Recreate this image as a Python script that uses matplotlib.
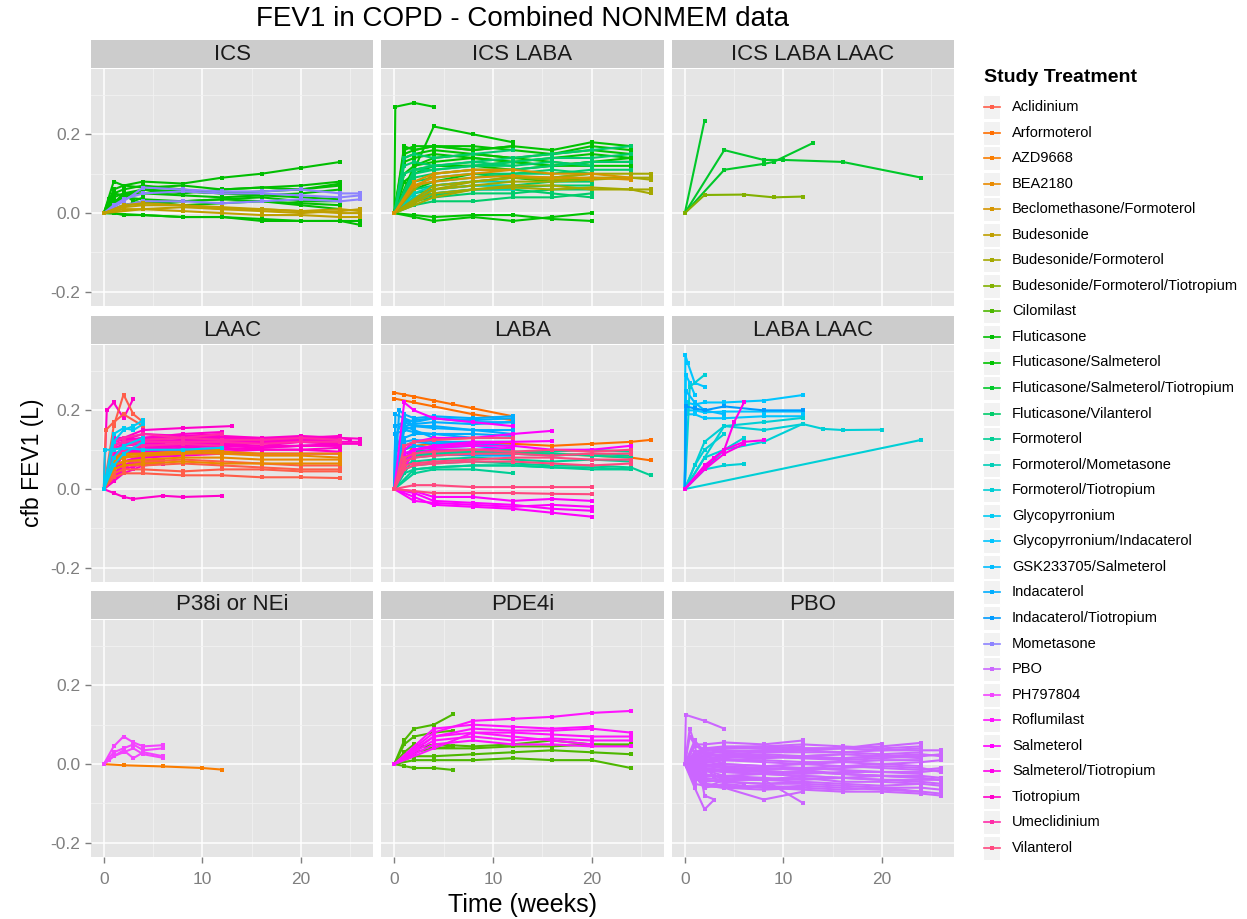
import numpy as np
import matplotlib
matplotlib.use("Agg")
import matplotlib.pyplot as plt

plt.rcParams['font.family'] = ['Liberation Sans', 'DejaVu Sans']

treatments = ["Aclidinium", "Arformoterol", "AZD9668", "BEA2180",
              "Beclomethasone/Formoterol", "Budesonide", "Budesonide/Formoterol",
              "Budesonide/Formoterol/Tiotropium", "Cilomilast", "Fluticasone",
              "Fluticasone/Salmeterol", "Fluticasone/Salmeterol/Tiotropium",
              "Fluticasone/Vilanterol", "Formoterol", "Formoterol/Mometasone",
              "Formoterol/Tiotropium", "Glycopyrronium", "Glycopyrronium/Indacaterol",
              "GSK233705/Salmeterol", "Indacaterol", "Indacaterol/Tiotropium",
              "Mometasone", "PBO", "PH797804", "Roflumilast", "Salmeterol",
              "Salmeterol/Tiotropium", "Tiotropium", "Umeclidinium", "Vilanterol"]

panel_names = ["ICS", "ICS LABA", "ICS LABA LAAC",
               "LAAC", "LABA", "LABA LAAC",
               "P38i or NEi", "PDE4i", "PBO"]

# each line: (treatment, time in weeks, cfb FEV1 in L)
ics = [
    ("Fluticasone", [0, 1, 2, 4, 8, 12, 16, 20, 24], [0, .06, .07, .08, .075, .09, .10, .115, .13]),
    ("Fluticasone", [0, 1, 2, 4, 8, 12, 16, 20, 24], [0, .08, .07, .065, .07, .06, .065, .07, .08]),
    ("Fluticasone", [0, 1, 2, 4, 8, 12, 16, 20, 24], [0, .05, .06, .07, .06, .05, .055, .06, .07]),
    ("Fluticasone", [0, 1, 2, 4, 8, 12, 16, 20, 24], [0, .04, .05, .05, .045, .04, .045, .05, .06]),
    ("Fluticasone", [0, 1, 2, 4, 8, 12, 16, 20, 24], [0, .03, .04, .035, .03, .035, .04, .03, .03]),
    ("Fluticasone", [0, 2, 4, 8, 12, 16, 20, 24], [0, .02, .03, .02, .025, .03, .02, .01]),
    ("Fluticasone", [0, 1, 2, 4, 8, 12, 16, 20, 24, 26], [0, 0, -.005, -.005, -.01, -.01, -.015, -.02, -.02, -.03]),
    ("Fluticasone", [0, 4, 8, 12, 16, 20, 24, 26], [0, -.005, -.01, -.01, -.02, -.02, -.02, -.02]),
    ("Fluticasone", [0, 1, 2, 4, 6, 8, 12], [0, .05, .045, .06, .05, .055, .05]),
    ("Fluticasone", [0, .5, 1, 2, 3, 4], [0, .035, .02, .05, .03, .04]),
    ("Fluticasone", [0, 2, 4, 8, 12, 16, 20, 24], [0, .04, .06, .055, .05, .045, .04, .035]),
    ("Fluticasone", [0, 1, 2, 4, 8, 12, 16, 20, 24], [0, .01, .02, .025, .03, .035, .03, .025, .02]),
    ("Fluticasone", [0, 2, 4, 8, 12, 16, 20, 24], [0, .05, .06, .05, .06, .065, .06, .075]),
    ("Mometasone", [0, 1, 2, 4, 8, 12, 16, 20, 24, 26], [0, .02, .035, .05, .055, .05, .05, .045, .04, .045]),
    ("Mometasone", [0, 2, 4, 8, 12, 16, 20, 24, 26], [0, .03, .065, .06, .055, .055, .06, .05, .05]),
    ("Mometasone", [0, 2, 4, 8, 12, 16, 20, 24, 26], [0, .02, .03, .03, .025, .03, .035, .03, .035]),
    ("Budesonide", [0, 2, 4, 8, 12, 16, 20, 24, 26], [0, .015, .02, .02, .01, .005, 0, .005, .01]),
    ("Budesonide", [0, 2, 4, 8, 12, 16, 20, 24, 26], [0, .02, .025, .02, .015, .01, .005, 0, 0]),
    ("Budesonide", [0, 2, 4, 8, 12, 16, 20, 24, 26], [0, .01, .01, .005, 0, -.005, -.005, -.01, -.01]),
    ("Budesonide", [0, 4, 8, 12, 16, 20, 24, 26], [0, .01, .015, .01, .01, .005, .01, .005]),
]

ics_laba = [
    ("Fluticasone/Salmeterol", [0, .1, 2, 4], [0, .27, .28, .27]),
    ("Fluticasone/Salmeterol", [0, 4, 8, 12], [0, .22, .2, .18]),
    ("Fluticasone/Salmeterol", [0, 1, 2, 4, 8, 12, 16, 20, 24], [0, .16, .17, .17, .16, .17, .16, .18, .17]),
    ("Fluticasone/Salmeterol", [0, 1, 2, 4, 8, 12, 16, 20, 24], [0, .14, .15, .16, .15, .14, .15, .17, .16]),
    ("Fluticasone/Salmeterol", [0, 2, 4, 8, 12, 16, 20, 24], [0, .12, .13, .14, .13, .12, .13, .14]),
    ("Fluticasone/Salmeterol", [0, 1, 2, 4, 8, 12, 16, 20], [0, .10, .12, .14, .15, .14, .13, .12]),
    ("Fluticasone/Salmeterol", [0, 2, 4, 8, 12, 16, 20], [0, .06, .08, .10, .09, .08, .09]),
    ("Fluticasone/Salmeterol", [0, 2, 4, 8, 12, 16, 20], [0, -.005, -.01, -.005, -.005, -.015, -.02]),
    ("Fluticasone/Salmeterol", [0, 2, 4, 8, 12, 16, 20], [0, -.01, -.02, -.01, -.02, -.01, 0]),
    ("Fluticasone/Salmeterol", [0, 1, 2, 4, 8, 12, 16, 20, 24], [0, .08, .10, .12, .12, .13, .12, .13, .13]),
    ("Fluticasone/Salmeterol", [0, 1, 2, 4, 8, 12, 16, 20, 24], [0, .15, .16, .17, .17, .16, .15, .16, .15]),
    ("Fluticasone/Salmeterol", [0, 1, 2, 4, 8, 12, 16, 20, 24], [0, .13, .14, .15, .14, .13, .14, .15, .14]),
    ("Fluticasone/Salmeterol", [0, 1, 2, 4, 8, 12], [0, .17, .16, .17, .16, .17]),
    ("Fluticasone/Salmeterol", [0, 2, 4, 8, 12, 16, 20, 24], [0, .11, .12, .12, .11, .12, .12, .12]),
    ("Fluticasone/Vilanterol", [0, 2, 4, 8, 12, 16, 20, 24], [0, .10, .11, .12, .13, .14, .14, .15]),
    ("Fluticasone/Vilanterol", [0, 2, 4, 8, 12, 16, 20, 24], [0, .09, .10, .11, .11, .12, .13, .13]),
    ("Fluticasone/Vilanterol", [0, 2, 4, 8, 12, 16, 20, 24], [0, .07, .08, .09, .10, .10, .11, .11]),
    ("Fluticasone/Vilanterol", [0, 2, 4, 8, 12, 16, 20], [0, .05, .06, .07, .07, .08, .08]),
    ("Fluticasone/Vilanterol", [0, 2, 4, 8, 12, 16, 20], [0, .03, .04, .05, .05, .06, .06]),
    ("Fluticasone/Vilanterol", [0, 2, 4, 8, 12, 16, 20], [0, .02, .03, .03, .04, .04, .05]),
    ("Fluticasone/Vilanterol", [0, 2, 4, 8, 12, 16, 20], [0, .04, .05, .06, .06, .05, .04]),
    ("Fluticasone/Vilanterol", [0, 1, 2, 4, 8, 12], [0, .12, .13, .12, .13, .12]),
    ("Fluticasone/Vilanterol", [0, 1, 2, 4, 8, 12], [0, .14, .15, .14, .15, .16]),
    ("Fluticasone/Vilanterol", [0, 2, 4, 8, 12, 16, 20, 24], [0, .11, .12, .13, .14, .15, .16, .17]),
    ("Fluticasone/Vilanterol", [0, 2, 4, 8, 12, 16, 20], [0, .08, .09, .10, .10, .11, .10]),
    ("Fluticasone/Vilanterol", [0, 2, 4, 8, 12, 16, 20], [0, .06, .07, .08, .09, .09, .10]),
    ("Fluticasone/Vilanterol", [0, 2, 4, 8, 12, 16, 20], [0, .035, .045, .06, .065, .07, .07]),
    ("Fluticasone/Vilanterol", [0, 1, 2, 4, 8, 12, 16, 20], [0, .10, .11, .11, .12, .12, .13, .12]),
    ("Formoterol/Mometasone", [0, 2, 4, 8, 12], [0, .05, .07, .08, .08]),
    ("Formoterol/Mometasone", [0, 2, 4, 8, 12], [0, .03, .05, .06, .06]),
    ("Formoterol/Mometasone", [0, 2, 4, 8, 12], [0, .04, .06, .07, .07]),
    ("Budesonide/Formoterol", [0, 4, 8, 12, 16, 20, 24, 26], [0, .07, .08, .09, .09, .10, .10, .10]),
    ("Budesonide/Formoterol", [0, 4, 8, 12, 16, 20, 24, 26], [0, .06, .08, .09, .085, .09, .09, .09]),
    ("Budesonide/Formoterol", [0, 4, 8, 12, 16, 20, 24, 26], [0, .05, .06, .07, .07, .06, .06, .06]),
    ("Budesonide/Formoterol", [0, 4, 8, 12, 16, 20, 24, 26], [0, .04, .06, .065, .06, .065, .06, .05]),
    ("Budesonide/Formoterol", [0, 4, 8, 12, 16, 20, 24, 26], [0, .06, .07, .08, .08, .085, .09, .085]),
    ("Budesonide/Formoterol", [0, 2, 4, 8, 12], [0, .06, .10, .11, .11]),
    ("Beclomethasone/Formoterol", [0, 2, 4, 8, 12, 16, 20, 24], [0, .08, .10, .11, .11, .10, .10, .09]),
    ("Beclomethasone/Formoterol", [0, 2, 4, 8, 12, 16, 20, 24], [0, .07, .08, .09, .095, .09, .09, .085]),
    ("Beclomethasone/Formoterol", [0, 2, 4, 8, 12], [0, .07, .09, .10, .11]),
]

ics_laba_laac = [
    ("Fluticasone/Salmeterol/Tiotropium", [0, 2], [0, .235]),
    ("Fluticasone/Salmeterol/Tiotropium", [0, 4, 8, 10, 16, 24], [0, .16, .135, .135, .13, .09]),
    ("Fluticasone/Salmeterol/Tiotropium", [0, 4, 8, 9, 13], [0, .11, .125, .13, .178]),
    ("Budesonide/Formoterol/Tiotropium", [0, 2, 6, 9, 12], [0, .046, .047, .04, .042]),
]

laac = [
    ("Tiotropium", [0, 1, 2, 4, 8, 12, 16, 20, 24, 26], [0, .11, .12, .125, .13, .13, .125, .13, .13, .128]),
    ("Tiotropium", [0, 1, 2, 4, 8, 12, 16, 20, 24], [0, .10, .115, .12, .125, .12, .12, .125, .12]),
    ("Tiotropium", [0, 2, 4, 8, 12, 16, 20, 24, 25], [0, .12, .13, .135, .13, .13, .135, .13, .125]),
    ("Tiotropium", [0, 1, 4, 8, 12, 16, 20, 24], [0, .09, .10, .11, .115, .11, .12, .115]),
    ("Tiotropium", [0, 1, 2, 4, 8, 12, 16, 20, 24], [0, .08, .10, .105, .11, .11, .105, .11, .11]),
    ("Tiotropium", [0, 2, 4, 8, 12, 16, 20, 24], [0, .09, .095, .10, .105, .10, .10, .105]),
    ("Tiotropium", [0, 1, 4, 8, 13], [0, .12, .15, .155, .16]),
    ("Tiotropium", [0, 1, 2, 4, 8, 12], [0, .13, .125, .14, .135, .14]),
    ("Tiotropium", [0, 1, 2, 4, 8, 12], [0, .10, .115, .12, .12, .125]),
    ("Tiotropium", [0, 2, 4, 8, 12, 16, 20, 24], [0, .06, .08, .09, .095, .10, .10, .095]),
    ("Tiotropium", [0, 1, 2, 4, 8, 12, 16, 20, 24], [0, .05, .07, .08, .085, .09, .09, .09, .09]),
    ("Tiotropium", [0, 1, 2, 3, 6, 8, 12], [0, -.01, -.02, -.025, -.017, -.02, -.017]),
    ("Tiotropium", [0, .3, 1, 2, 3], [0, .20, .22, .18, .23]),
    ("Tiotropium", [0, 1, 2, 4, 6], [0, .04, .06, .07, .075]),
    ("Tiotropium", [0, 1, 2, 4, 6], [0, .03, .05, .065, .07]),
    ("Tiotropium", [0, 1, 2, 3, 4, 6], [0, .02, .04, .05, .06, .065]),
    ("Tiotropium", [0, 2, 4, 6, 8, 12, 16, 20, 24, 26], [0, .11, .12, .12, .125, .125, .12, .125, .12, .12]),
    ("Tiotropium", [0, 1, 4, 8, 12, 16, 20, 24], [0, .115, .125, .12, .12, .13, .125, .12]),
    ("Tiotropium", [0, 1, 2, 4, 8, 12, 16, 20, 24], [0, .13, .13, .125, .12, .115, .12, .12, .115]),
    ("Tiotropium", [0, 2, 4, 8, 12, 16, 20, 24], [0, .07, .085, .095, .10, .105, .11, .11]),
    ("Tiotropium", [0, 1, 2, 4, 8, 12], [0, .08, .09, .095, .10, .10]),
    ("Tiotropium", [0, 2, 4, 8, 12, 16], [0, .10, .11, .115, .12, .12]),
    ("Tiotropium", [0, 1, 2, 4, 8, 12, 16, 20, 24], [0, .105, .11, .115, .12, .12, .12, .125, .13]),
    ("Tiotropium", [0, 1, 2, 4, 8, 12, 16, 20, 24], [0, .12, .125, .13, .135, .135, .13, .13, .135]),
    ("Tiotropium", [0, 2, 4, 8, 12, 16, 20, 24, 26], [0, .095, .10, .105, .11, .11, .11, .115, .115]),
    ("Tiotropium", [0, 1, 2, 4, 8, 12], [0, .11, .12, .13, .14, .145]),
    ("Tiotropium", [0, 1, 2, 4, 8, 12], [0, .09, .10, .11, .11, .115]),
    ("Tiotropium", [0, 1, 2, 4], [0, .03, .06, .08]),
    ("Tiotropium", [0, 1, 2, 4], [0, .02, .05, .09]),
    ("Umeclidinium", [0, 1, 2, 4, 8, 12], [0, .12, .13, .14, .13, .14]),
    ("Umeclidinium", [0, 1, 2, 4, 8, 12, 16, 20, 24], [0, .10, .11, .12, .12, .12, .115, .12, .12]),
    ("Umeclidinium", [0, 1, 2, 4, 8, 12, 16, 20, 24], [0, .11, .12, .125, .13, .125, .125, .13, .125]),
    ("Umeclidinium", [0, 1, 2, 4, 8, 12], [0, .08, .10, .11, .115, .11]),
    ("Aclidinium", [0, 1, 2, 3, 4], [0, .16, .24, .19, .17]),
    ("Aclidinium", [0, 1, 2, 4, 8, 12, 16, 20, 24], [0, .04, .05, .05, .045, .05, .05, .045, .045]),
    ("Aclidinium", [0, 1, 2, 4, 8, 12, 16, 20, 24], [0, .03, .04, .04, .035, .035, .03, .03, .028]),
    ("Aclidinium", [0, 1, 2, 4, 8, 12], [0, .07, .08, .085, .09, .09]),
    ("Aclidinium", [0, 1, 2, 4, 8, 12, 16, 20, 24], [0, .06, .07, .07, .075, .07, .065, .06, .06]),
    ("Aclidinium", [0, 1, 2, 4, 8, 12, 16, 20, 24], [0, .05, .06, .06, .065, .06, .055, .05, .05]),
    ("Aclidinium", [0, .2, 1, 2, 4], [0, .15, .17, .19, .16]),
    ("BEA2180", [0, 1, 2, 4, 8, 12, 16, 20, 24], [0, .07, .08, .085, .09, .095, .09, .09, .09]),
    ("BEA2180", [0, 1, 2, 4, 8, 12, 16, 20, 24], [0, .06, .07, .075, .08, .08, .075, .075, .075]),
    ("BEA2180", [0, 1, 2, 4, 8, 12, 16, 20, 24], [0, .05, .06, .065, .07, .065, .065, .065, .065]),
    ("BEA2180", [0, 1, 2, 4, 8, 12, 16, 20, 24], [0, .075, .085, .09, .095, .09, .085, .085, .08]),
    ("BEA2180", [0, 1, 2, 4, 8, 12], [0, .08, .09, .09, .095, .10]),
    ("Glycopyrronium", [0, .1, 1, 2, 4, 8, 12], [0, .10, .10, .105, .10, .10, .105]),
    ("Glycopyrronium", [0, 1, 2, 3, 4], [0, .12, .15, .16, .175]),
    ("Glycopyrronium", [0, 1, 2, 4], [0, .06, .09, .12]),
    ("Glycopyrronium", [0, 1, 2, 4], [0, .08, .11, .13]),
    ("Glycopyrronium", [0, 1, 2, 3, 4], [0, .14, .155, .15, .165]),
]

laba = [
    ("Arformoterol", [0, 1, 2, 4, 6, 8, 12], [.245, .24, .235, .225, .215, .205, .185]),
    ("Arformoterol", [0, 2, 4, 8, 12], [.23, .22, .21, .19, .175]),
    ("Arformoterol", [0, 1, 2, 4, 8, 12, 16, 20, 24, 26], [0, .10, .11, .115, .12, .115, .11, .115, .12, .125]),
    ("Arformoterol", [0, 1, 2, 4, 8, 12, 16, 20, 24, 26], [0, .08, .09, .095, .10, .095, .09, .085, .08, .073]),
    ("Arformoterol", [0, 2, 4, 8, 12], [0, .12, .125, .13, .13]),
    ("Arformoterol", [0, 2, 4, 8, 12], [0, .10, .11, .115, .12]),
    ("Indacaterol", [0, .1, 1, 2, 4, 8, 12], [0, .19, .18, .17, .18, .17, .17]),
    ("Indacaterol", [0, .1, 1, 2, 4, 8, 12], [0, .16, .17, .16, .16, .15, .15]),
    ("Indacaterol", [0, 1, 2, 4, 8, 12], [0, .15, .16, .155, .15, .14]),
    ("Indacaterol", [0, 1, 2, 4, 8, 12], [0, .13, .14, .14, .13, .13]),
    ("Indacaterol", [0, 1, 2, 4, 8, 12], [0, .12, .125, .12, .12, .12]),
    ("Indacaterol", [0, 1, 2, 4, 8, 12], [0, .17, .175, .18, .175, .18]),
    ("Indacaterol", [0, .5, 1, 2, 4, 8, 12], [0, .20, .19, .18, .185, .18, .185]),
    ("Indacaterol", [0, 1, 2, 4, 8, 12], [0, .10, .11, .105, .11, .10]),
    ("Indacaterol", [0, 1, 2, 4, 8, 12], [0, .09, .10, .095, .10, .09]),
    ("Indacaterol", [0, 1, 2, 4, 8, 12], [0, .16, .165, .17, .165, .17]),
    ("Indacaterol", [0, 1, 2, 4, 8, 12], [0, .11, .12, .115, .115, .11]),
    ("Indacaterol", [0, .1, 1, 2, 4, 8, 12], [0, .14, .15, .145, .14, .14, .135]),
    ("Indacaterol", [0, 1, 2, 4, 8, 12], [0, .08, .09, .09, .085, .085]),
    ("Indacaterol", [0, .2, 1, 2], [0, .14, .18, .16]),
    ("Indacaterol", [0, .2, 1, 2, 4], [0, .10, .16, .15, .13]),
    ("Formoterol", [0, 1, 2, 4, 8, 12, 16, 20, 24], [0, .07, .08, .085, .09, .09, .085, .09, .085]),
    ("Formoterol", [0, 1, 2, 4, 8, 12, 16, 20, 24], [0, .06, .07, .075, .08, .075, .07, .075, .07]),
    ("Formoterol", [0, 1, 2, 4, 8, 12, 16, 20, 24, 26], [0, .05, .06, .065, .07, .065, .06, .06, .055, .035]),
    ("Formoterol", [0, 2, 4, 8, 12, 16, 20, 24], [0, .05, .055, .06, .06, .055, .05, .05]),
    ("Formoterol", [0, 2, 4, 8, 12], [0, .08, .09, .095, .10]),
    ("Formoterol", [0, 1, 2, 4, 8, 12, 16, 20, 24], [0, .09, .095, .10, .10, .095, .095, .10, .095]),
    ("Formoterol", [0, 1, 2, 4, 8, 12, 16, 20, 24], [0, .08, .085, .09, .095, .09, .09, .085, .08]),
    ("Formoterol", [0, 1, 2, 4, 8, 12, 16, 20, 24], [0, .04, .05, .055, .06, .06, .055, .055, .05]),
    ("Formoterol", [0, 2, 4, 8, 12], [0, .04, .05, .05, .04]),
    ("Salmeterol", [0, 2, 4, 8, 12, 16, 20], [0, -.02, -.04, -.045, -.05, -.06, -.07]),
    ("Salmeterol", [0, 2, 4, 8, 12, 16, 20], [0, -.01, -.03, -.035, -.04, -.05, -.055]),
    ("Salmeterol", [0, 2, 4, 8, 12, 16, 20], [0, -.03, -.035, -.04, -.045, -.04, -.045]),
    ("Salmeterol", [0, 1, 2, 4, 8, 12, 16], [0, .10, .12, .13, .13, .14, .148]),
    ("Salmeterol", [0, 1, 2, 4, 8, 12, 16], [0, .09, .10, .11, .115, .12, .122]),
    ("Salmeterol", [0, 1, 2, 4, 8, 12], [0, .08, .10, .11, .12, .12]),
    ("Salmeterol", [0, 1, 2, 4, 8, 12], [0, .07, .09, .10, .10, .105]),
    ("Salmeterol", [0, 2, 4, 8, 12, 16, 20, 24], [0, .10, .105, .11, .11, .10, .10, .11]),
    ("Salmeterol", [0, 1, 2, 4, 8, 12], [0, .22, .20, .18, .17, .16]),
    ("Salmeterol", [0, 2, 4, 8, 12, 16, 20], [0, -.005, -.02, -.02, -.03, -.025, -.03]),
    ("Vilanterol", [0, 2, 4, 8, 12, 16, 20], [0, .01, .01, .005, .005, .005, .005]),
    ("Vilanterol", [0, 2, 4, 8, 12, 16, 20], [0, -.005, -.01, -.01, -.01, -.012, -.013]),
    ("Vilanterol", [0, 1, 2, 4, 8, 12, 16, 20, 24], [0, .07, .08, .085, .09, .09, .085, .09, .09]),
    ("Vilanterol", [0, 1, 2, 4, 8, 12, 16, 20, 24], [0, .06, .065, .07, .075, .08, .08, .075, .075]),
    ("Vilanterol", [0, 1, 2, 4, 8, 12, 16, 20, 24], [0, .08, .09, .095, .10, .095, .10, .095, .10]),
    ("Vilanterol", [0, 1, 2, 4, 8, 12], [0, .11, .12, .125, .13, .13]),
    ("Vilanterol", [0, 1, 2, 4, 8, 12, 16, 20, 24], [0, .05, .06, .065, .07, .07, .065, .06, .065]),
]

laba_laac = [
    ("Glycopyrronium/Indacaterol", [0, .05, .3, 1, 2], [0, .34, .32, .27, .26]),
    ("Glycopyrronium/Indacaterol", [0, .1, 1, 2, 4, 8, 12], [0, .22, .215, .22, .22, .225, .239]),
    ("Glycopyrronium/Indacaterol", [0, .1, 1, 2, 4, 8, 12], [0, .20, .20, .195, .197, .197, .197]),
    ("Glycopyrronium/Indacaterol", [0, .1, 1, 2, 4, 8, 12], [0, .19, .19, .18, .18, .185, .185]),
    ("Glycopyrronium/Indacaterol", [0, .1, .5, 1], [0, .29, .27, .24]),
    ("Formoterol/Tiotropium", [0, .5, 2], [0, .26, .29]),
    ("Formoterol/Tiotropium", [0, 2, 4, 8, 12], [0, .12, .16, .17, .181]),
    ("Formoterol/Tiotropium", [0, 4, 8, 12, 14, 16, 20], [0, .16, .15, .165, .153, .15, .151]),
    ("Formoterol/Tiotropium", [0, 24], [0, .125]),
    ("Formoterol/Tiotropium", [0, 2, 4, 6], [0, .05, .06, .064]),
    ("Formoterol/Tiotropium", [0, 4, 8, 12], [0, .10, .12, .166]),
    ("Formoterol/Tiotropium", [0, 2, 4, 6], [0, .08, .10, .13]),
    ("Formoterol/Tiotropium", [0, 1, 2, 4], [0, .06, .10, .14]),
    ("GSK233705/Salmeterol", [0, .1, 1, 2, 4], [0, .25, .22, .20, .19]),
    ("Indacaterol/Tiotropium", [0, .1, 1, 2, 4, 8, 12], [0, .21, .205, .20, .21, .20, .20]),
    ("Salmeterol/Tiotropium", [0, 3, 4, 5, 6], [0, .08, .10, .17, .22]),
    ("Salmeterol/Tiotropium", [0, 2, 4, 6, 8], [0, .06, .10, .12, .124]),
    ("Salmeterol/Tiotropium", [0, 2, 4, 6], [0, .05, .09, .115]),
]

p38_ne = [
    ("AZD9668", [0, 2, 6, 10, 12], [0, -.003, -.006, -.01, -.014]),
    ("PH797804", [0, 1, 2, 3, 4, 6], [0, .045, .07, .055, .045, .048]),
    ("PH797804", [0, 1, 2, 3, 4, 6], [0, .03, .04, .05, .035, .04]),
    ("PH797804", [0, 1, 2, 3, 4, 6], [0, .02, .035, .015, .03, .02]),
    ("PH797804", [0, .5, 1, 2, 3, 4, 6], [0, .01, .02, .03, .04, .025, .016]),
]

pde4i = [
    ("Cilomilast", [0, 1, 2, 4, 6], [0, .06, .09, .10, .127]),
    ("Cilomilast", [0, 1, 2, 4, 6], [0, .05, .07, .08, .085]),
    ("Cilomilast", [0, 1, 2, 4, 6], [0, -.005, -.01, -.01, -.015]),
    ("Cilomilast", [0, 2, 4, 8, 12, 16, 20, 24], [0, .03, .04, .04, .045, .045, .05, .047]),
    ("Cilomilast", [0, 2, 4, 8, 12, 16, 20, 24], [0, .02, .02, .025, .03, .035, .03, .025]),
    ("Cilomilast", [0, 2, 4, 8, 12, 16, 20, 24], [0, .01, .01, .01, .015, .01, .01, -.01]),
    ("Cilomilast", [0, 2, 4, 8, 12, 16, 20, 24], [0, .04, .05, .045, .05, .06, .05, .05]),
    ("Cilomilast", [0, 1, 2, 4, 6], [0, .03, .05, .04, .045]),
    ("Roflumilast", [0, 4, 8, 12, 16, 20, 24], [0, .08, .11, .115, .12, .13, .135]),
    ("Roflumilast", [0, 4, 8, 12, 16, 20, 24], [0, .07, .09, .085, .085, .09, .08]),
    ("Roflumilast", [0, 4, 8, 12, 16, 20], [0, .09, .10, .095, .09, .095]),
    ("Roflumilast", [0, 4, 8, 12, 16, 20, 24], [0, .05, .06, .05, .05, .045, .045]),
    ("Roflumilast", [0, 4, 8, 12, 16, 20, 24], [0, .06, .07, .06, .065, .06, .06]),
    ("Roflumilast", [0, 4, 8, 12, 16, 20], [0, .04, .08, .07, .06, .05]),
    ("Roflumilast", [0, 4, 8, 12, 16, 20, 24], [0, .07, .08, .08, .075, .07, .07]),
]

pbo = [
    ("PBO", [0, .1, 2, 4], [0, .125, .11, .09]),
    ("PBO", [0, 1, 2, 4, 8, 12], [0, .05, .05, .055, .05, .06]),
    ("PBO", [0, 2, 4, 8, 12, 16, 20, 24], [0, .03, .03, .035, .04, .04, .045, .054]),
    ("PBO", [0, 2, 4, 8, 12, 16, 20, 24, 26], [0, .02, .025, .03, .03, .03, .035, .035, .035]),
    ("PBO", [0, 1, 2, 4, 8, 12, 16, 20, 24, 26], [0, .01, .015, .02, .02, .015, .015, .02, .02, .025]),
    ("PBO", [0, 2, 4, 8, 12, 16, 20], [0, .04, .035, .03, .035, .04, .052]),
    ("PBO", [0, 1, 2, 4, 8, 12, 16, 20, 24], [0, 0, .005, .01, .01, .005, .005, .01, .01]),
    ("PBO", [0, 1, 2, 4, 8, 12, 16, 20, 24], [0, -.01, -.005, 0, -.005, -.01, -.005, 0, -.005]),
    ("PBO", [0, 2, 4, 8, 12, 16, 20, 24, 26], [0, -.02, -.015, -.02, -.025, -.02, -.02, -.02, -.015]),
    ("PBO", [0, 2, 4, 8, 12, 16, 20, 24, 26], [0, -.03, -.03, -.035, -.04, -.035, -.04, -.04, -.04]),
    ("PBO", [0, 2, 4, 8, 12, 16, 20, 24, 26], [0, -.04, -.045, -.05, -.05, -.055, -.06, -.06, -.065]),
    ("PBO", [0, 2, 4, 8, 12, 16, 20, 24, 26], [0, -.05, -.055, -.06, -.065, -.07, -.07, -.075, -.08]),
    ("PBO", [0, 1, 2, 3], [0, -.06, -.115, -.09]),
    ("PBO", [0, 2, 4, 8, 12], [0, -.05, -.06, -.09, -.07]),
    ("PBO", [0, 4, 8, 12], [0, -.03, -.04, -.099]),
    ("PBO", [0, 1, 2, 4, 8, 12], [0, .02, .03, .03, .035, .035]),
    ("PBO", [0, 1, 2, 4, 8, 12], [0, -.02, -.03, -.03, -.025, -.03]),
    ("PBO", [0, 1, 2, 4, 8, 12], [0, -.04, -.04, -.045, -.05, -.045]),
    ("PBO", [0, .5, 1, 2, 3], [0, .07, .05, -.08, -.09]),
    ("PBO", [0, 2, 4, 8, 12, 16, 20, 24], [0, .035, .04, .04, .035, .03, .025, .03]),
    ("PBO", [0, 2, 4, 8, 12, 16, 20, 24], [0, -.005, -.01, -.015, -.01, -.015, -.02, -.025]),
    ("PBO", [0, 4, 8, 12, 16, 20, 24, 26], [0, .01, .005, 0, -.005, -.01, -.015, -.01]),
    ("PBO", [0, 4, 8, 12, 16, 20, 24, 26], [0, -.02, -.025, -.03, -.035, -.04, -.045, -.05]),
    ("PBO", [0, 2, 4, 8, 12, 16, 20, 24], [0, .025, .02, .015, .02, .025, .02, .015]),
    ("PBO", [0, 1, 2, 4, 8, 12, 16, 20, 24], [0, .045, .04, .04, .045, .04, .04, .035, .04]),
    ("PBO", [0, 2, 4, 8, 12, 16, 20, 24], [0, -.045, -.04, -.04, -.045, -.05, -.055, -.05]),
    ("PBO", [0, 2, 4, 8, 12, 16, 20, 24], [0, -.06, -.05, -.06, -.055, -.06, -.065, -.07]),
    ("PBO", [0, 1, 2, 4, 6], [0, .02, 0, -.01, -.005]),
    ("PBO", [0, 1, 2, 4, 6], [0, -.03, -.06, -.04, -.05]),
    ("PBO", [0, 1, 2, 3, 4], [0, .06, .03, .01, 0]),
    ("PBO", [0, 2, 4, 8, 12, 16, 20, 24, 26], [0, .005, 0, -.005, 0, .005, 0, .005, .01]),
    ("PBO", [0, 2, 4, 8, 12, 16, 20, 24], [0, -.025, -.035, -.04, -.03, -.035, -.03, -.035]),
    ("PBO", [0, 1, 2, 4, 8, 12, 16], [0, .015, .01, .01, .015, .02, .025]),
    ("PBO", [0, 2, 4, 8, 12, 16, 20, 24, 26], [0, -.01, -.015, -.01, -.015, -.025, -.03, -.03, -.035]),
    ("PBO", [0, 2, 4, 8, 12, 16, 20, 24], [0, -.015, -.02, -.025, -.02, -.025, -.03, -.03]),
    ("PBO", [0, 2, 4, 8, 12, 16, 20, 24], [0, .01, .015, .02, .015, .01, .015, .02]),
    ("PBO", [0, 2, 4, 8, 12, 16, 20, 24, 26], [0, -.035, -.04, -.04, -.035, -.045, -.045, -.05, -.055]),
    ("PBO", [0, 2, 4, 8, 12, 16, 20, 24, 26], [0, -.055, -.06, -.065, -.06, -.065, -.06, -.07, -.075]),
    ("PBO", [0, 1, 2, 4, 8, 12], [0, .01, .02, .025, .02, .015]),
    ("PBO", [0, 1, 2, 4, 8, 12], [0, -.01, -.015, -.02, -.015, -.01]),
    ("PBO", [0, 1, 2, 4, 8, 12], [0, .03, .035, .04, .04, .045]),
    ("PBO", [0, 1, 2, 4, 8, 12], [0, -.05, -.055, -.06, -.055, -.06]),
    ("PBO", [0, 2, 4, 8, 12, 16, 20, 24], [0, .04, .045, .045, .05, .045, .04, .045]),
    ("PBO", [0, 2, 4, 8, 12, 16, 20, 24, 26], [0, 0, -.005, -.01, -.015, -.01, -.005, -.01, -.02]),
    ("PBO", [0, 4, 8, 12, 16, 20, 24, 26], [0, -.01, -.02, -.02, -.025, -.03, -.035, -.04]),
    ("PBO", [0, 4, 8, 12, 16, 20, 24, 26], [0, .02, .025, .02, .015, .02, .025, .02]),
    ("PBO", [0, 1, 2, 3, 4, 6], [0, .03, .04, .035, .03, .02]),
    ("PBO", [0, 1, 2, 3, 4, 6], [0, -.02, -.01, -.03, -.04, -.035]),
    ("PBO", [0, .5, 1, 2, 4], [0, .09, .05, .03, .02]),
]

panel_data = [ics, ics_laba, ics_laba_laac, laac, laba, laba_laac, p38_ne, pde4i, pbo]


def hcl(h, c=150.0, l=65.0):
    # R's hcl() (polar CIE-Luv, D65) -> sRGB, out-of-gamut values clipped
    h = np.deg2rad(h)
    U, V = c * np.cos(h), c * np.sin(h)
    Y = 100.0 * ((l + 16) / 116) ** 3
    u = U / (13 * l) + 0.1978398
    v = V / (13 * l) + 0.4683363
    X = 9.0 * Y * u / (4 * v)
    Z = -X / 3 - 5 * Y + 3 * Y / v
    X, Y, Z = X / 100, Y / 100, Z / 100
    rgb = np.array([3.240479 * X - 1.537150 * Y - 0.498535 * Z,
                    -0.969256 * X + 1.875992 * Y + 0.041556 * Z,
                    0.055648 * X - 0.204043 * Y + 1.057311 * Z])
    rgb = np.where(rgb > 0.0031308, 1.055 * np.abs(rgb) ** (1 / 2.4) - 0.055, 12.92 * rgb)
    return tuple(np.clip(rgb, 0, 1))


n = len(treatments)
colors = {t: hcl(15 + 360.0 * i / n) for i, t in enumerate(treatments)}

W, H = 1247, 919
fig = plt.figure(figsize=(W / 100, H / 100), dpi=100)


def px_box(x, y, w, h):
    return [x / W, 1 - (y + h) / H, w / W, h / H]


col_left = [91, 381.5, 672]
row_top = [69, 345, 620]
pw, ph, sh = 282, 237, 28
grey50 = '#7F7F7F'

for k, (name, lines) in enumerate(zip(panel_names, panel_data)):
    r, c = divmod(k, 3)
    ax = fig.add_axes(px_box(col_left[c], row_top[r], pw, ph))
    ax.set_facecolor('#E5E5E5')
    for s in ax.spines.values():
        s.set_visible(False)
    ax.set_xlim(-1.3, 27.3)
    ax.set_ylim(-0.236, 0.366)
    ax.set_xticks([0, 10, 20])
    ax.set_yticks([-0.2, 0.0, 0.2])
    ax.set_xticks([5, 15, 25], minor=True)
    ax.set_yticks([-0.1, 0.1, 0.3], minor=True)
    ax.grid(which='major', color='white', lw=1.1)
    ax.grid(which='minor', color='#F2F2F2', lw=0.6)
    ax.set_axisbelow(True)
    ax.tick_params(which='minor', length=0)
    ax.tick_params(which='major', length=4, width=1, color=grey50,
                   labelcolor=grey50, labelsize=12.5)
    ax.tick_params(axis='x', pad=7)
    if c == 0:
        ax.set_yticklabels(['-0.2', '0.0', '0.2'])
    else:
        ax.tick_params(axis='y', which='major', length=0, labelleft=False)
    if r != 2:
        ax.tick_params(axis='x', which='major', length=0, labelbottom=False)

    for trt, t, y in lines:
        ax.plot(t, y, color=colors[trt], lw=1.5, marker='s', ms=2.8,
                markeredgewidth=0, solid_joinstyle='round')

    sax = fig.add_axes(px_box(col_left[c], row_top[r] - sh - 1, pw, sh))
    sax.set_facecolor('#CCCCCC')
    sax.set_xticks([])
    sax.set_yticks([])
    for s in sax.spines.values():
        s.set_visible(False)
    sax.text(0.5, 0.5, name, ha='center', va='center', fontsize=16, color='#1A1A1A',
             transform=sax.transAxes)

fig.text(522 / W, 1 - 19 / H, "FEV1 in COPD - Combined NONMEM data",
         ha='center', va='center', fontsize=20)
fig.text(522 / W, 1 - 905 / H, "Time (weeks)", ha='center', va='center', fontsize=18)
fig.text(33 / W, 1 - 463 / H, "cfb FEV1 (L)", ha='center', va='center',
         rotation=90, fontsize=16.5)

# legend
lax = fig.add_axes([0, 0, 1, 1], facecolor='none')
lax.set_xlim(0, W)
lax.set_ylim(H, 0)
lax.axis('off')
lax.text(984, 77, "Study Treatment", fontsize=14, fontweight='bold',
         ha='left', va='center')
for i, trt in enumerate(treatments):
    yc = 107 + i * 25.55
    lax.add_patch(plt.Rectangle((983, yc - 12), 17, 24, facecolor='#F2F2F2',
                                edgecolor='white', lw=0.8))
    lax.plot([984, 1000], [yc, yc], color=colors[trt], lw=1.2)
    lax.plot([992], [yc], 's', color=colors[trt], ms=2.4, markeredgewidth=0)
    lax.text(1012, yc, trt, fontsize=10.5, ha='left', va='center')

fig.savefig("out.png", dpi=100)
